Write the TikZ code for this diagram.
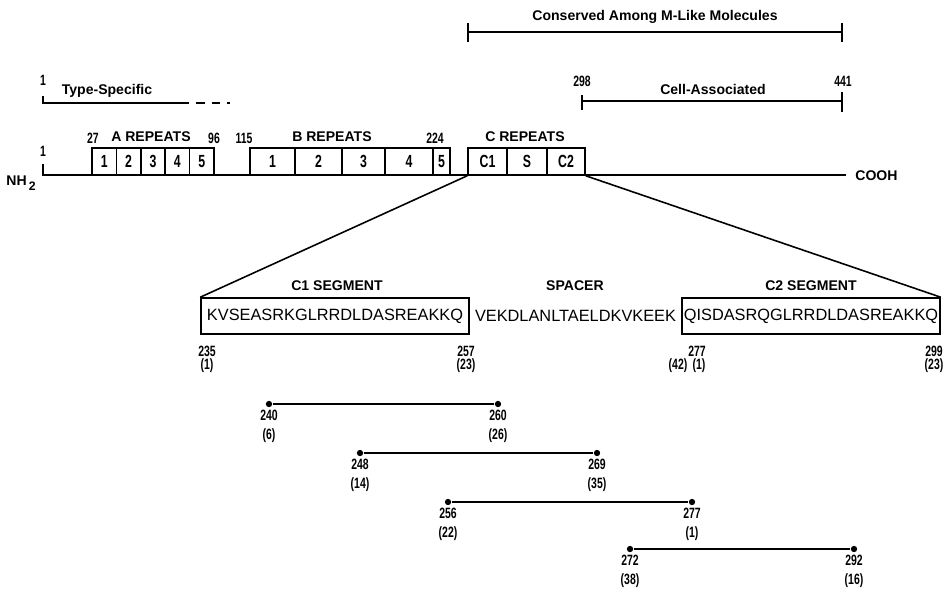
\documentclass[tikz,border=0pt]{standalone}
\usepackage{fontspec}
\setmainfont{Liberation Sans}
\setsansfont{Liberation Sans}
\newfontfamily\condfont[FakeStretch=0.7]{Liberation Sans}
\usetikzlibrary{positioning}

\begin{document}
\begin{tikzpicture}[
    x=0.02cm, y=-0.02cm,
    line/.style={line width=0.9pt},
    title/.style={font=\fontsize{8}{9}\selectfont\bfseries, inner sep=0pt},
    num/.style={font=\condfont\fontsize{8.5}{8.5}\selectfont\bfseries, inner sep=0pt, align=center},
    fragnum/.style={num, font=\condfont\fontsize{8.5}{10.5}\selectfont\bfseries},
    cell/.style={draw, line width=0.9pt, minimum height=0.54cm, inner sep=0pt, font=\condfont\fontsize{10}{10}\selectfont\bfseries},
    segbox/.style={draw, line width=0.9pt, minimum height=0.72cm, inner sep=0pt, font=\fontsize{9.3}{11}\selectfont},
    spacer/.style={segbox, draw=none},
    dot/.style={circle, fill, inner sep=0pt, minimum size=3.6pt}
]
    \useasboundingbox (0,0) rectangle (944,589);

    \coordinate (cons-l) at (468,32);
    \coordinate (cons-r) at (842,32);
    \draw[line] (cons-l) -- (cons-r);
    \draw[line] ([yshift=0.18cm]cons-l) -- ([yshift=-0.2cm]cons-l);
    \draw[line] ([yshift=0.18cm]cons-r) -- ([yshift=-0.2cm]cons-r);
    \node[title] (cons) at (655,17) {Conserved Among M-Like Molecules};

    \coordinate (type-l) at (43,103);
    \coordinate (type-m) at (180,103);
    \coordinate (type-r) at (230,103);
    \node[num] (type-1) at (43,80) {1};
    \draw[line] ([yshift=0.14cm]type-l) -- (type-l) -- (type-m);
    \draw[line, dashed, dash pattern=on 5pt off 4pt] (type-m) -- (type-r);
    \node[title] (type) at (107,91) {Type-Specific};

    \coordinate (cell-l) at (582,101);
    \coordinate (cell-r) at (842,101);
    \draw[line] (cell-l) -- (cell-r);
    \draw[line] ([yshift=0.12cm]cell-l) -- ([yshift=-0.18cm]cell-l);
    \draw[line] ([yshift=0.18cm]cell-r) -- ([yshift=-0.22cm]cell-r);
    \node[num] (cell-298) at (582,81) {298};
    \node[num] (cell-441) at (843,81) {441};
    \node[title] (cellassoc) at (713,89) {Cell-Associated};

    \coordinate (nterm) at (43,175);
    \coordinate (cterm) at (846,175);
    \draw[line] ([yshift=0.22cm]nterm) -- (nterm) -- (cterm);
    \node[num] (n-1) at (43,151) {1};
    \node[title] (nh2) at (21,183) {NH\raisebox{-0.6ex}{\fontsize{7}{7}\selectfont\,2}};
    \node[title, anchor=west] (cooh) at (855,176) {COOH};

    \foreach \i in {1,...,5}
        \node[cell, minimum width=0.488cm] (a\i) at ({92+24.4*(\i-0.5)},161.5) {\i};
    \foreach \i/\x/\w in {1/272.5/0.9, 2/318.5/0.94, 3/363.5/0.86, 4/409/0.96, 5/441.5/0.34}
        \node[cell, minimum width=\w cm] (b\i) at (\x,161.5) {\i};
    \foreach \i/\x/\w/\t in {1/487.5/0.78/C1, 2/527/0.8/S, 3/566/0.76/C2}
        \node[cell, minimum width=\w cm] (c\i) at (\x,161.5) {\t};

    \node[num] (a-27) at (93,138) {27};
    \node[title] (arep) at (151,137) {A REPEATS};
    \node[num] (a-96) at (214,138) {96};
    \node[num] (b-115) at (244,138) {115};
    \node[title] (brep) at (332,137) {B REPEATS};
    \node[num] (b-224) at (435,138) {224};
    \node[title] (crep) at (525,137) {C REPEATS};

    \node[segbox, minimum width=5.36cm] (c1seg) at (335,316) {KVSEASRKGLRRDLDASREAKKQ};
    \node[spacer, minimum width=4.26cm] (spseg) at (575.5,316) {VEKDLANLTAELDKVKEEK};
    \node[segbox, minimum width=5.16cm] (c2seg) at (811,316) {QISDASRQGLRRDLDASREAKKQ};

    \draw[line] (c1.south west) -- (c1seg.north west);
    \draw[line] (c3.south east) -- (c2seg.north east);

    \node[title] (c1title) at (337,286) {C1 SEGMENT};
    \node[title] (sptitle) at (575,286) {SPACER};
    \node[title] (c2title) at (811,286) {C2 SEGMENT};

    \node[num] (p235) at (207,351) {235};
    \node[num] (r235) at (207,366) {(1)};
    \node[num] (p257) at (466,351) {257};
    \node[num] (r257) at (466,366) {(23)};
    \node[num] (r276) at (678,366) {(42)};
    \node[num] (p277) at (697,351) {277};
    \node[num] (r277) at (699,366) {(1)};
    \node[num] (p299) at (934,351) {299};
    \node[num] (r299) at (934,366) {(23)};

    \foreach \i/\xa/\xb/\y/\pa/\ra/\pb/\rb in {1/269/498/404/240/6/260/26, 2/360/597/453/248/14/269/35, 3/448/692/502/256/22/277/1, 4/630/854/549/272/38/292/16} {
        \node[dot] (f\i-l) at (\xa,\y) {};
        \node[dot] (f\i-r) at (\xb,\y) {};
        \draw[line] (f\i-l) -- (f\i-r);
        \node[fragnum, below=1.5pt of f\i-l] (f\i-lt) {\pa\\(\ra)};
        \node[fragnum, below=1.5pt of f\i-r] (f\i-rt) {\pb\\(\rb)};
    }
\end{tikzpicture}
\end{document}
